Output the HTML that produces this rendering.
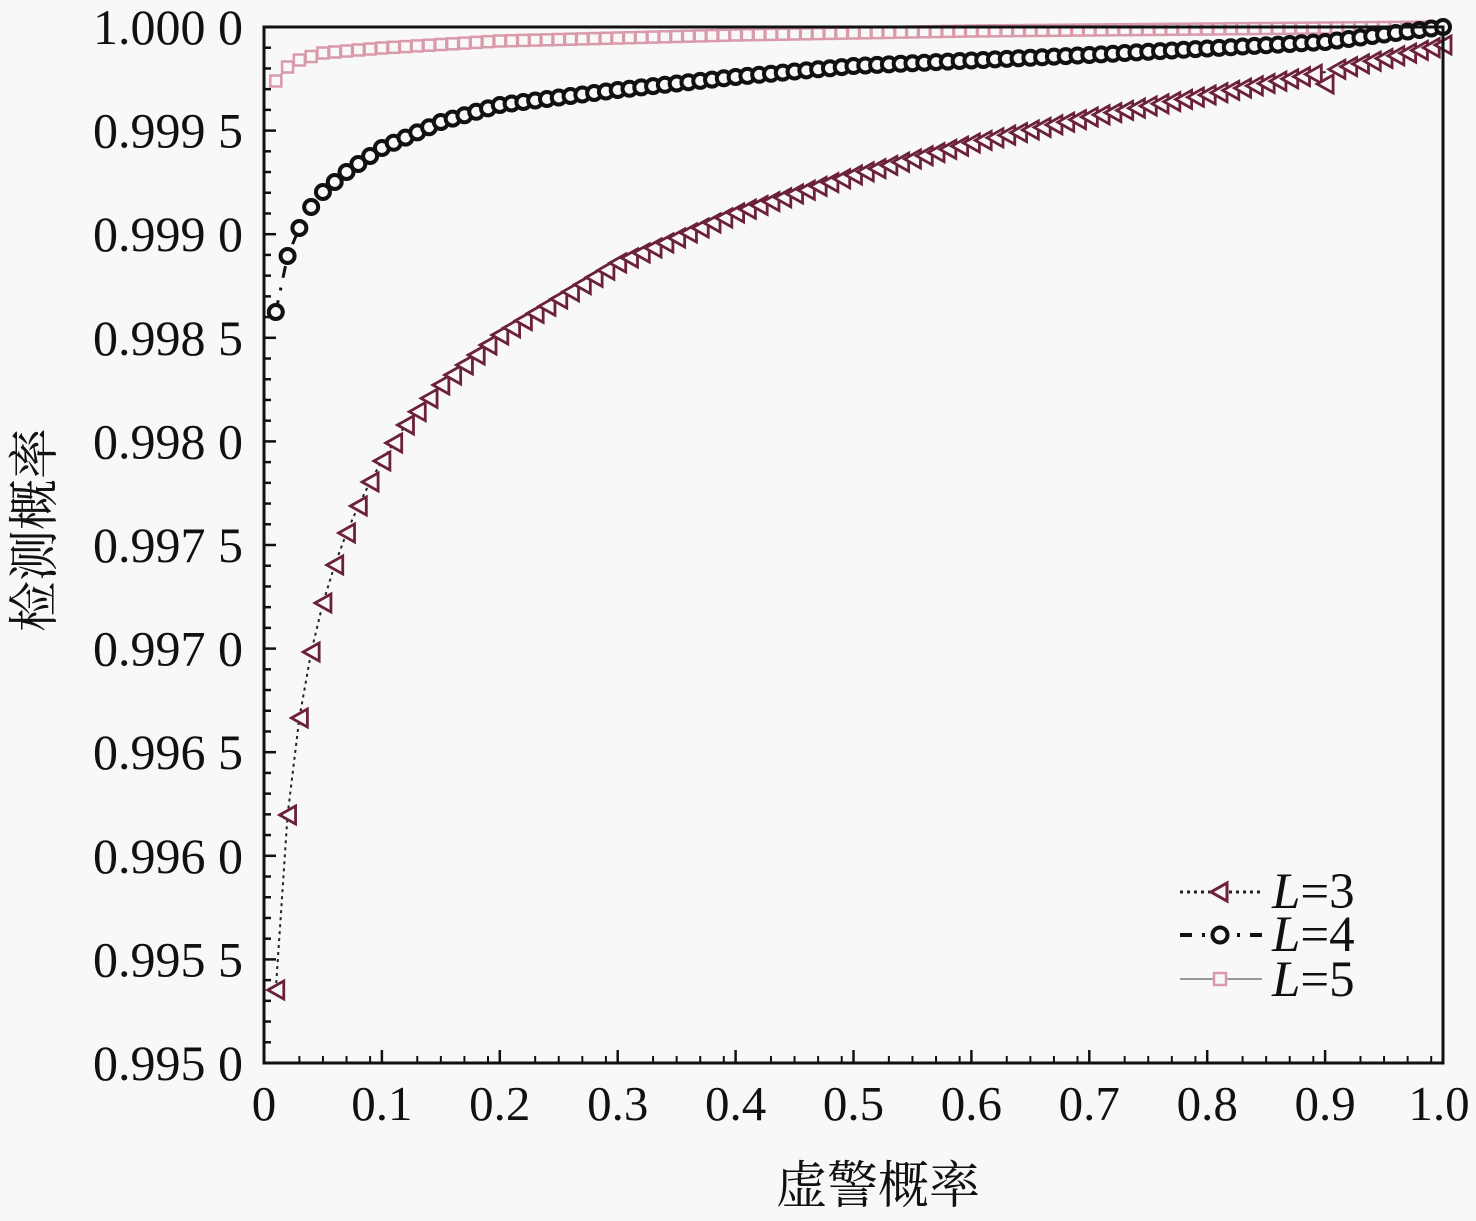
<!DOCTYPE html>
<html><head><meta charset="utf-8"><style>
html,body{margin:0;padding:0;background:#f8f8f8;}
svg{display:block;}
text{font-family:"Liberation Serif","Noto Serif CJK SC",serif;fill:#111;}
.cjk{font-family:"Liberation Serif","Noto Serif CJK SC","Noto Sans CJK SC",serif;}
</style></head><body>
<svg id="s" width="1476" height="1221" viewBox="0 0 1476 1221" xmlns="http://www.w3.org/2000/svg">
<rect width="1476" height="1221" fill="#f8f8f8"/>
<g id="g"></g>
<rect x="264" y="27" width="1179" height="1036" fill="none" stroke="#111" stroke-width="3"/>
<g font-size="50" id="yl"></g>
<g font-size="49" text-anchor="middle" id="xl"></g>
<text class="cjk" x="878" y="1203" font-size="51" text-anchor="middle">虚警概率</text>
<text class="cjk" transform="translate(52,530) rotate(-90)" font-size="51" text-anchor="middle">检测概率</text>
<g id="leg">
<line x1="1180" y1="892" x2="1262" y2="892" stroke="#222" stroke-width="3" stroke-dasharray="3,4"/>
<polygon points="1211,892 1227,883 1227,901" fill="#f8f8f8" stroke="#6b2238" stroke-width="3"/>
<line x1="1180" y1="935" x2="1262" y2="935" stroke="#111" stroke-width="4" stroke-dasharray="12,10,3,10"/>
<circle cx="1220" cy="935" r="7.5" fill="#f8f8f8" stroke="#111" stroke-width="4"/>
<line x1="1180" y1="979" x2="1262" y2="979" stroke="#999" stroke-width="2"/>
<rect x="1214" y="973" width="12" height="12" fill="#f8f8f8" stroke="#d99aaa" stroke-width="2.5"/>
<text x="1272" y="908" font-size="51"><tspan font-style="italic">L</tspan>=3</text>
<text x="1272" y="951" font-size="51"><tspan font-style="italic">L</tspan>=4</text>
<text x="1272" y="996" font-size="51"><tspan font-style="italic">L</tspan>=5</text>
</g>
</svg>
<script>
var NS="http://www.w3.org/2000/svg",g=document.getElementById('g');
function el(t,a,p){var e=document.createElementNS(NS,t);for(var k in a)e.setAttribute(k,a[k]);(p||g).appendChild(e);return e;}
var X=function(v){return 264+v*1179;};
var yl=document.getElementById('yl');
var labs=['1.000 0','0.999 5','0.999 0','0.998 5','0.998 0','0.997 5','0.997 0','0.996 5','0.996 0','0.995 5','0.995 0'];
labs.forEach(function(s,i){var t=el('text',{x:243,y:27+i*103.6+17,'text-anchor':'end'},yl);t.textContent=s;});
for(var i=0;i<=50;i++){var y=27+i*1036/50;var L=(i%5==0)?12:7;el('line',{x1:264,x2:264+L,y1:y,y2:y,stroke:'#111','stroke-width':2.5});}
var xl=document.getElementById('xl');
for(var i=0;i<=10;i++){var x=X(i/10);el('line',{x1:x,x2:x,y1:1063,y2:1050,stroke:'#111','stroke-width':2.5});
 var t=el('text',{x:(i==10?x-4:x),y:1120},xl);t.textContent=i==0?'0':(i/10).toFixed(1);}
for(var i=0;i<50;i++){var x=X(i/50+0.01);if(i%5==0)continue;el('line',{x1:x,x2:x,y1:1063,y2:1056,stroke:'#111','stroke-width':2});}
function interp(tab,v){for(var i=0;i<tab.length-1;i++){if(v<=tab[i+1][0]){var a=tab[i],b=tab[i+1];return a[1]+(b[1]-a[1])*(v-a[0])/(b[0]-a[0]);}}return tab[tab.length-1][1];}
var t3=[[0.01,990],[0.02,815],[0.03,718],[0.04,652],[0.05,603],[0.06,565],[0.07,533],[0.08,506],[0.09,482],[0.1,461],[0.12,425],[0.15,385],[0.2,335],[0.3,263],[0.4,213],[0.5,175],[0.6,143],[0.7,117],[0.8,95],[0.9,72],[1.0,45]];
var t4=[[0.01,312],[0.02,256],[0.03,228],[0.04,207],[0.05,192],[0.07,172],[0.1,148],[0.15,122],[0.2,105],[0.3,90],[0.4,77],[0.5,66],[0.7,55],[0.9,42],[1.0,27]];
var t5=[[0.01,81],[0.02,67],[0.03,60],[0.05,53],[0.1,48],[0.2,41],[0.4,35],[0.6,31],[1.0,27]];
function pts(t){var p=[];for(var i=1;i<=100;i++){var v=i/100;p.push([X(v),interp(t,v)]);}return p;}
var p5=pts(t5),p4=pts(t4),p3=pts(t3);
el('polyline',{points:p5.map(String).join(' '),fill:'none',stroke:'#999','stroke-width':2});
p5.forEach(function(p){el('rect',{x:p[0]-5.5,y:p[1]-5.5,width:11,height:11,fill:'#f8f8f8',stroke:'#d99aaa','stroke-width':2.5});});
el('polyline',{points:p4.map(String).join(' '),fill:'none',stroke:'#111','stroke-width':3,'stroke-dasharray':'12,10,3,10'});
p4.forEach(function(p){el('circle',{cx:p[0],cy:p[1],r:7,fill:'#f8f8f8',stroke:'#111','stroke-width':4});});
el('polyline',{points:p3.map(String).join(' '),fill:'none',stroke:'#222','stroke-width':2,'stroke-dasharray':'3,4'});
p3.forEach(function(p,i){var y=p[1];if(i==89)y+=12;el('polygon',{points:(p[0]-8)+','+y+' '+(p[0]+8)+','+(y-9)+' '+(p[0]+8)+','+(y+9),fill:'#f8f8f8',stroke:'#6b2238','stroke-width':2.8});});
</script>
</body></html>
